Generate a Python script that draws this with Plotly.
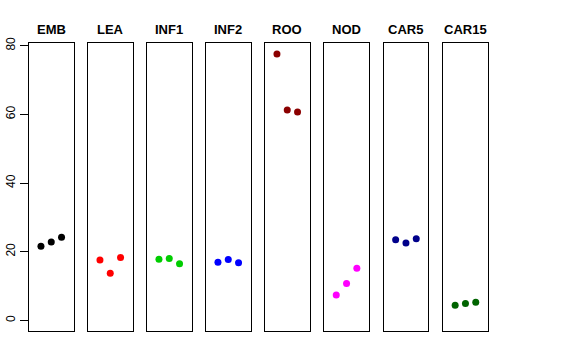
import plotly.graph_objects as go

categories = ["EMB", "LEA", "INF1", "INF2", "ROO", "NOD", "CAR5", "CAR15"]
values = [
    [21.6, 22.8, 24.2],
    [17.6, 13.7, 18.3],
    [17.8, 18.0, 16.5],
    [16.9, 17.7, 16.8],
    [77.6, 61.3, 60.7],
    [7.4, 10.7, 15.2],
    [23.5, 22.5, 23.8],
    [4.4, 4.9, 5.3],
]
colors = ["#000000", "#FF0000", "#00CD00", "#0000FF", "#8B0000", "#FF00FF", "#00008B", "#006400"]
replicates = [1, 2, 3]
y_ticks = [0, 20, 40, 60, 80]

W, H = 576, 360
panel_left = [29, 88, 147, 206, 265, 324.3, 383.7, 443.2]
panel_w = 44.5
top_px, bot_px = 43.3, 331.0
ymax = max(max(v) for v in values)
ypad = 0.04 * ymax
yrange = [0 - ypad, ymax + ypad]

fig = go.Figure()
for i, (cat, vals, col) in enumerate(zip(categories, values, colors)):
    n = i + 1
    xa = "x" if n == 1 else f"x{n}"
    ya = "y" if n == 1 else f"y{n}"
    fig.add_trace(go.Scatter(
        x=replicates, y=vals, mode="markers", xaxis=xa, yaxis=ya,
        marker=dict(color=col, size=7), showlegend=False, hoverinfo="skip",
    ))
    x0 = panel_left[i] / W
    x1 = (panel_left[i] + panel_w) / W
    fig.layout[f"xaxis{n}" if n > 1 else "xaxis"] = dict(
        domain=[x0, x1], range=[-0.16, 4.16], anchor=ya, automargin=False,
        showgrid=False, zeroline=False, showticklabels=False, ticks="",
        showline=True, linecolor="black", linewidth=1, mirror=True, fixedrange=True,
    )
    ydict = dict(
        domain=[1 - bot_px / H, 1 - top_px / H], range=yrange, anchor=xa,
        automargin=False, showgrid=False, zeroline=False,
        showline=True, linecolor="black", linewidth=1, mirror=True,
    )
    if n == 1:
        ydict.update(tickmode="array", tickvals=y_ticks, ticktext=[str(t) for t in y_ticks],
                     ticks="outside", ticklen=8, tickcolor="black", tickangle=-90,
                     tickfont=dict(family="Liberation Sans, Arial, sans-serif", size=12, color="black"))
    else:
        ydict.update(showticklabels=False, ticks="")
    fig.layout[f"yaxis{n}" if n > 1 else "yaxis"] = ydict
    fig.add_annotation(
        text=f"<b>{cat}</b>", x=(panel_left[i] + panel_w / 2) / W, y=1 - 29.5 / H,
        xref="paper", yref="paper", xanchor="center", yanchor="middle", showarrow=False,
        font=dict(family="Liberation Sans, Arial, sans-serif", size=13, color="black"),
    )

fig.update_layout(
    width=W, height=H, margin=dict(l=0, r=0, t=0, b=0, autoexpand=False),
    paper_bgcolor="white", plot_bgcolor="white",
)
fig.write_html("out.html", config={"displayModeBar": False},
               post_script="document.body.style.margin='0';")
